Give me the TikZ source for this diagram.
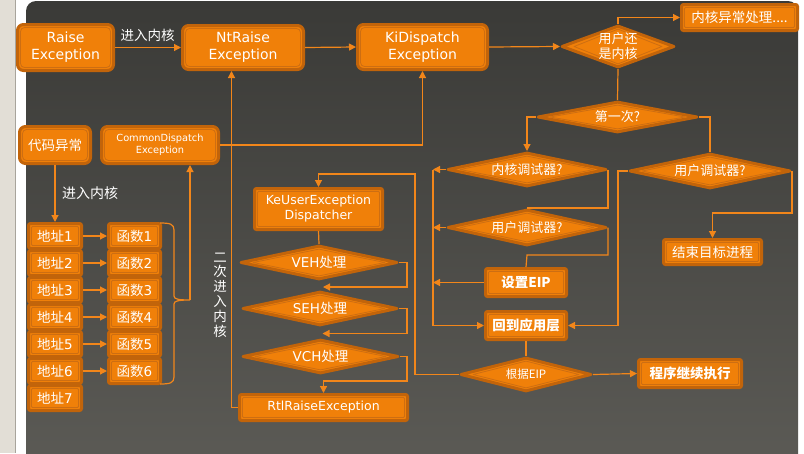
\documentclass[tikz,border=0pt]{standalone}
\usepackage{fontspec}
\setmainfont{DejaVu Sans}
\newfontfamily\cjk{Noto Sans CJK SC}
\usetikzlibrary{shapes.geometric,arrows.meta}
\definecolor{boxor}{HTML}{F08009}
\definecolor{edgeor}{HTML}{C2640A}
\definecolor{innor}{HTML}{CD6E12}
\definecolor{lineor}{HTML}{F2861A}
\definecolor{bgtop}{HTML}{3A3A37}
\definecolor{bgbot}{HTML}{5C5B56}
\definecolor{leftgray}{HTML}{E2DED6}
\definecolor{sepgray}{HTML}{A8A49C}
\newcommand{\fs}[2]{\fontsize{#1}{#2}\selectfont}
\tikzset{
  conn/.style={draw=lineor, line width=1.2pt},
  arr/.style={conn, -{Triangle[length=7pt,width=7pt]}},
  basebox/.style={fill=boxor, draw=edgeor, line width=3pt, inner sep=0pt, text=white, align=center},
  rbox/.style={basebox, rectangle, rounded corners=2pt,
    path picture={\draw[innor, line width=0.8pt, rounded corners=1pt]
      ([shift={(3pt,-3pt)}]path picture bounding box.north west) rectangle
      ([shift={(-3pt,3pt)}]path picture bounding box.south east);}},
  bigbox/.style={basebox, rectangle, rounded corners=6pt,
    path picture={\draw[innor, line width=0.8pt, rounded corners=4pt]
      ([shift={(3pt,-3pt)}]path picture bounding box.north west) rectangle
      ([shift={(-3pt,3pt)}]path picture bounding box.south east);}},
  dbox/.style={basebox, diamond, aspect=4, line join=round,
    path picture={\draw[innor, line width=0.8pt]
      ([yshift=-3pt]path picture bounding box.north) --
      ([xshift=-12pt]path picture bounding box.east) --
      ([yshift=3pt]path picture bounding box.south) --
      ([xshift=12pt]path picture bounding box.west) -- cycle;}},
  lab/.style={text=white, inner sep=0pt},
}
\begin{document}
\begin{tikzpicture}[x=1pt,y=-1pt]
\useasboundingbox (0,0) rectangle (804,453);
% background
\fill[white] (0,0) rectangle (804,453);
\fill[leftgray] (0,0) rectangle (16,453);
\draw[sepgray, line width=1pt] (15.5,0) -- (15.5,453);
\shade[top color=bgtop, bottom color=bgbot, rounded corners=10pt] (26,1) rectangle (798,475);

% top row
\node[bigbox, minimum width=96pt, minimum height=46pt, font=\fs{14}{17}] (raise) at (65.5,47.5) {Raise\\Exception};
\node[bigbox, minimum width=121pt, minimum height=44pt, font=\fs{14}{17}] (ntraise) at (243,47.5) {NtRaise\\Exception};
\node[bigbox, minimum width=130pt, minimum height=45pt, font=\fs{14}{17}] (kid) at (422.5,47) {KiDispatch\\Exception};
\node[dbox, aspect=2.6, minimum width=113pt, minimum height=40pt, font=\cjk\fs{13}{15}] (uk) at (618,46.5) {用户还\\是内核};
\node[rbox, minimum width=116pt, minimum height=26pt, font=\cjk\fs{13.5}{15}] (kexc) at (739.5,17.5) {内核异常处理....};

% left part
\node[bigbox, minimum width=71pt, minimum height=37pt, font=\cjk\fs{13.5}{15}] (code) at (55,145) {代码异常};
\node[bigbox, minimum width=117pt, minimum height=37pt, font=\fs{9.8}{12}] (common) at (160,145) {CommonDispatch\\Exception};
\foreach \i in {1,...,7} {
  \node[rbox, minimum width=53pt, minimum height=25pt, font=\fs{13.5}{15}] (addr\i) at (55,{236+27*(\i-1)}) {{\cjk 地址}\i};
}
\foreach \i in {1,...,6} {
  \node[rbox, minimum width=52pt, minimum height=25pt, font=\fs{13.5}{15}] (func\i) at (134.5,{236+27*(\i-1)}) {{\cjk 函数}\i};
  \draw[arr] (addr\i.east) -- (func\i.west);
}

% middle column
\node[rbox, minimum width=128pt, minimum height=41pt, font=\fs{12.5}{15}] (keuser) at (318.5,209) {KeUserException\\Dispatcher};
\node[dbox, minimum width=157pt, minimum height=34pt, font=\fs{13.5}{15}] (veh) at (319,262.5) {VEH{\cjk 处理}};
\node[dbox, minimum width=155pt, minimum height=34pt, font=\fs{13.5}{15}] (seh) at (320,308.5) {SEH{\cjk 处理}};
\node[dbox, minimum width=156pt, minimum height=34pt, font=\fs{13.5}{15}] (vch) at (320.5,356.5) {VCH{\cjk 处理}};
\node[rbox, minimum width=168pt, minimum height=26pt, font=\fs{12.5}{14}] (rtl) at (323.5,407.5) {RtlRaiseException};

% right part
\node[dbox, minimum width=160pt, minimum height=31pt, font=\cjk\fs{13}{14}] (first) at (617.5,117) {第一次?};
\node[dbox, minimum width=159pt, minimum height=34pt, font=\cjk\fs{13}{14}] (kdbg) at (527,169.5) {内核调试器?};
\node[dbox, minimum width=161pt, minimum height=35pt, font=\cjk\fs{13}{14}] (udbg2) at (710,171) {用户调试器?};
\node[dbox, minimum width=159pt, minimum height=36pt, font=\cjk\fs{13}{14}] (udbg1) at (527,227.5) {用户调试器?};
\node[rbox, minimum width=81pt, minimum height=28pt, font=\cjk\bfseries\fs{13.5}{15}] (seteip) at (526,282.5) {设置EIP};
\node[rbox, minimum width=81pt, minimum height=28pt, font=\cjk\bfseries\fs{13.5}{15}] (back) at (526,325.5) {回到应用层};
\node[dbox, minimum width=131pt, minimum height=34pt, font=\cjk\fs{11.5}{12}] (eipd) at (526,374.5) {根据EIP};
\node[rbox, minimum width=103pt, minimum height=28pt, font=\cjk\bfseries\fs{13.5}{15}] (cont) at (690,373.5) {程序继续执行};
\node[rbox, minimum width=98pt, minimum height=25pt, font=\cjk\fs{13.5}{15}] (endp) at (712.5,252) {结束目标进程};

% labels
\node[lab, font=\cjk\fs{13.5}{15}] (lab1) at (147.5,35) {进入内核};
\node[lab, font=\cjk\fs{14}{15}] (lab2) at (90,193) {进入内核};
\node[lab, align=center, font=\cjk\fs{13.5}{14.8}] (lab3) at (220,295) {二\\次\\进\\入\\内\\核};

% connectors
\draw[arr] (raise.east) -- (ntraise.west);
\draw[arr] (ntraise.east) -- (kid.west);
\draw[arr] (kid.east) -- (uk.west);
\draw[arr] (uk.north) |- (kexc.west);
\draw[conn] (uk.south) -- (first.north);
\draw[arr] (first.west) -| (kdbg.north);
\draw[conn] (first.east) -| (udbg2.north);
\draw[conn] (kdbg.east) |- (udbg1.north);
\coordinate (lbus) at (433,300);
\draw[arr] (kdbg.west) -- (kdbg.west -| lbus);
\draw[arr] (udbg1.west) -- (udbg1.west -| lbus);
\draw[arr] (seteip.west) -- (seteip.west -| lbus);
\draw[arr] (kdbg.west -| lbus) |- (back.west);
\coordinate (j1) at (527,255);
\draw[conn] (udbg1.east) |- (j1) -- (seteip.north);
\coordinate (rbus) at (618,300);
\draw[arr] (udbg2.west) -- (udbg2.west -| rbus) |- (back.east);
\draw[arr] (udbg2.east) -- ++(0,42) -| (endp.north);
\draw[conn] (back.south) -- (eipd.north);
\draw[arr] (eipd.east) -- (cont.west);
\coordinate (j3) at (415,174);
\draw[arr] (eipd.west) -| (j3) -| (keuser.north);
\draw[arr] (common.east) -| (kid.south);
\draw[conn] (keuser.south) -- (veh.north);
\draw[arr] (veh.east) -- ++(8,0) |- ([xshift=3pt,yshift=3pt]seh.north);
\draw[arr] (seh.east) -- ++(8,0) |- ([xshift=2pt,yshift=4.5pt]vch.north);
\draw[arr] (vch.east) -- ++(7,0) -- ++(0,24.5) -| (rtl.north);
\draw[arr] (rtl.west) -| ([xshift=-11.5pt]ntraise.south);
\draw[arr] (code.south) -- (addr1.north);
% brace
\coordinate (bmid) at (190,300);
\draw[conn] (160,223) .. controls (170,223) and (174,224) .. (174,230) -- (174,296)
  .. controls (174,299) and (178,300) .. (bmid)
  .. controls (178,300) and (174,301) .. (174,304) -- (174,377)
  .. controls (174,383) and (170,384) .. (160,384);
\draw[arr] (bmid) -- (bmid |- common.south);
\end{tikzpicture}
\end{document}
